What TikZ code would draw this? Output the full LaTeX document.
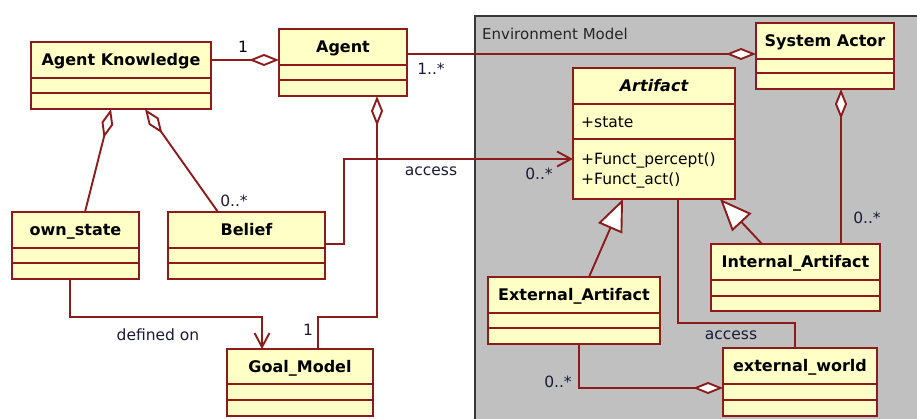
\documentclass[tikz,border=0pt]{standalone}
\usepackage{fontspec}
\setmainfont{DejaVu Sans}
\usetikzlibrary{arrows.meta,fit,calc}

\definecolor{umlred}{RGB}{140,28,28}
\definecolor{umlfill}{RGB}{255,255,198}
\definecolor{pkggrey}{RGB}{192,192,192}
\definecolor{pkgedge}{RGB}{55,55,55}
\definecolor{labelink}{RGB}{26,26,56}

% class box: name, x1, y1, x2, y2, first divider y, second divider y, title
\newcommand\umlclass[8]{%
  \node[classbox, fit={(#2,#3) (#4,#5)}] (#1) {};
  \draw[edge] (#1.west |- 0,#6) -- (#1.east |- 0,#6);
  \draw[edge] (#1.west |- 0,#7) -- (#1.east |- 0,#7);
  \node[classtitle] (#1t) at ({(#2+#4)/2},{(#3+#6)/2}) {#8};
}

\begin{document}
\begin{tikzpicture}[
  x=1pt, y=-1pt,
  edge/.style={draw=umlred, line width=1.9pt},
  classbox/.style={draw=umlred, fill=umlfill, line width=1.9pt, inner sep=0pt, outer sep=0pt},
  classtitle/.style={font=\fontsize{16}{19}\selectfont\bfseries, text=black, inner sep=0pt,
                     text height=11.7pt, text depth=0pt},
  lbl/.style={font=\fontsize{15.5}{18}\selectfont, text=labelink, inner sep=0pt},
  aggfrom/.style={arrows={Diamond[fill=white,length=30pt,width=12pt]-}},
  aggto/.style={arrows={-Diamond[fill=white,length=30pt,width=12pt]}},
  gen/.style={arrows={-Triangle[fill=white,length=32pt,width=26pt]}},
  dep/.style={arrows={-Straight Barb[length=14pt,width=15pt]}},
]
\useasboundingbox (0,0) rectangle (917,419);

% Environment Model package
\fill[pkggrey] (475,16) rectangle (917,419);
\draw[pkgedge, line width=2pt] (475,419) -- (475,16) -- (917,16);
\node[lbl, text=black!85, font=\fontsize{15}{18}\selectfont, anchor=base west] (pkgname) at (482,40) {Environment Model};

% classes
\umlclass{ak}{31}{42}{211}{109}{78}{93}{Agent Knowledge}
\umlclass{agent}{279}{29}{407}{96}{65}{80}{Agent}
\umlclass{own}{12}{212}{139}{279}{248}{263}{own\_state}
\umlclass{belief}{168}{212}{325}{279}{248}{263}{Belief}
\umlclass{goal}{227}{349}{373}{416}{384}{400}{Goal\_Model}
\umlclass{actor}{756}{23}{894}{89}{59}{73}{System Actor}
\umlclass{artifact}{573}{68}{735}{199}{104}{139}{\itshape Artifact}
\umlclass{internal}{711}{244}{880}{311}{280}{296}{Internal\_Artifact}
\umlclass{external}{488}{277}{660}{344}{313}{328}{External\_Artifact}
\umlclass{world}{723}{348}{877}{416}{384}{400}{external\_world}

% artifact members
\node[lbl, text=black, anchor=base west] (attrstate) at (581,128) {+state};
\node[lbl, text=black, anchor=base west] (oppercept) at (581,165) {+Funct\_percept()};
\node[lbl, text=black, anchor=base west] (opact) at (581,185) {+Funct\_act()};

% associations
\draw[edge, aggto] ($(ak.north east)+(0,18)$) -- ($(agent.north west)+(0,31)$);
\draw[edge, aggto] ($(agent.north east)+(0,25)$) -- ($(actor.north west)+(0,31)$);
\draw[edge, aggfrom] ($(ak.south west)+(80,0)$) -- ($(own.north west)+(73,0)$);
\draw[edge, aggfrom] ($(ak.south west)+(114,0)$) -- ($(belief.north west)+(50,0)$);
\draw[edge, aggfrom] ($(agent.south west)+(98,0)$) -- ++(0,221) -| ($(goal.north west)+(91,0)$);
\draw[edge, dep] ($(own.south west)+(58,0)$) -- ++(0,38) -| ($(goal.north west)+(35,0)$);
\draw[edge, dep] ($(belief.north east)+(0,32)$) -- ++(19,0) |- ($(artifact.north west)+(0,91)$);
\coordinate (actordrop) at ($(actor.south west)+(85,0)$);
\draw[edge, aggfrom] (actordrop) -- (actordrop |- internal.north);
\draw[edge, gen] ($(external.north west)+(101,0)$) -- ($(artifact.south west)+(50,0)$);
\draw[edge, gen] ($(internal.north west)+(51,0)$) -- ($(artifact.south west)+(147,0)$);
\draw[edge] ($(artifact.south west)+(105,0)$) -- ++(0,124) -| ($(world.north west)+(72,0)$);
\draw[edge, aggto] ($(external.south west)+(91,0)$) |- ($(world.north west)+(0,40)$);

% labels
\node[lbl, text=black, anchor=base] (m1) at (243,53) {1};
\node[lbl, anchor=base] (m2) at (431,75) {1..*};
\node[lbl, anchor=base] (m3) at (234,207) {0..*};
\node[lbl, anchor=base] (acc1) at (431,176) {access};
\node[lbl, anchor=base] (m4) at (539,180) {0..*};
\node[lbl, anchor=base] (m5) at (867,224) {0..*};
\node[lbl, anchor=base] (acc2) at (731,339) {access};
\node[lbl, anchor=base] (m6) at (558,387) {0..*};
\node[lbl, anchor=base] (defon) at (158,340) {defined on};
\node[lbl, anchor=base] (m7) at (308,335) {1};
\end{tikzpicture}
\end{document}
